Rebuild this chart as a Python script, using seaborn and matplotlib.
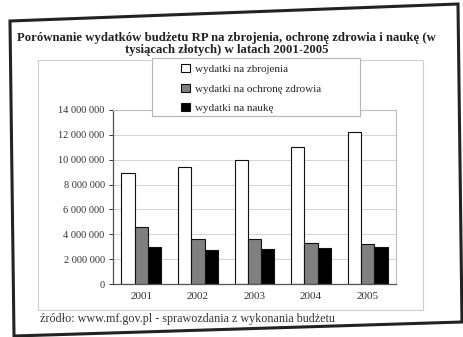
import matplotlib
matplotlib.use("Agg")
import matplotlib.pyplot as plt
import seaborn as sns
import pandas as pd
from matplotlib.patches import Polygon, Rectangle, Patch
from matplotlib.ticker import FuncFormatter

years = ["2001", "2002", "2003", "2004", "2005"]
series_names = ["wydatki na zbrojenia", "wydatki na ochronę zdrowia", "wydatki na naukę"]
zbrojenia = [8900000, 9400000, 10000000, 11000000, 12200000]
zdrowie = [4600000, 3600000, 3600000, 3300000, 3200000]
nauka = [3000000, 2700000, 2800000, 2900000, 2950000]
colors = ["#ffffff", "#808080", "#000000"]

title = ("Porównanie wydatków budżetu RP na zbrojenia, ochronę zdrowia i naukę (w\n"
         "tysiącach złotych) w latach 2001-2005")
source = "źródło: www.mf.gov.pl - sprawozdania z wykonania budżetu"

rows = []
for name, vals in zip(series_names, [zbrojenia, zdrowie, nauka]):
    for y, v in zip(years, vals):
        rows.append({"rok": y, "seria": name, "wartosc": v})
df = pd.DataFrame(rows)

sns.set_theme(style="white")
plt.rcParams["font.family"] = ["Liberation Serif", "DejaVu Serif"]

W, H = 463, 337
fig = plt.figure(figsize=(W / 100, H / 100), dpi=100)
fig.patch.set_facecolor("white")

def fx(x):
    return x / W

def fy(y):
    return 1 - y / H

# paper frame (slightly rotated photo of a printed sheet)
frame = Polygon([(fx(10), fy(21)), (fx(458), fy(4)), (fx(462), fy(322)), (fx(14), fy(336))],
                closed=True, fill=False, edgecolor="#222222", linewidth=2.2,
                transform=fig.transFigure)
fig.patches.append(frame)

# chart area border
fig.patches.append(Rectangle((fx(38), fy(310)), fx(423) - fx(38), fy(60) - fy(310),
                             fill=False, edgecolor="#cfcfcf", linewidth=0.8,
                             transform=fig.transFigure))

ax = fig.add_axes([fx(113), fy(284), fx(396) - fx(113), fy(110) - fy(284)])
sns.barplot(data=df, x="rok", y="wartosc", hue="seria", hue_order=series_names,
            palette=colors, width=0.7, gap=0, edgecolor="#111111", linewidth=0.8,
            saturation=1, ax=ax, legend=False)

ax.set_ylim(0, 14000000)
ax.set_yticks(range(0, 14000001, 2000000))
ax.yaxis.set_major_formatter(FuncFormatter(lambda v, p: f"{int(v):,}".replace(",", " ")))
ax.grid(axis="y", color="#d4d4d4", linewidth=0.7)
ax.set_axisbelow(True)
ax.set_xlabel("")
ax.set_ylabel("")
for s in ["top", "right"]:
    ax.spines[s].set_color("#bdbdbd")
    ax.spines[s].set_linewidth(0.8)
for s in ["left", "bottom"]:
    ax.spines[s].set_color("#555555")
    ax.spines[s].set_linewidth(0.9)
ax.tick_params(axis="y", labelsize=7.5, colors="#333333", length=3, width=0.7, direction="out", left=True, pad=3)
ax.tick_params(axis="x", labelsize=8, colors="#333333", length=0, pad=6)

fig.text(0.49, fy(44), title, ha="center", va="center", fontsize=9.2, fontweight="bold",
         color="#222222", linespacing=1.1)
fig.text(fx(40), fy(319), source, ha="left", va="center", fontsize=8.7, color="#333333")

# legend box
fig.patches.append(Rectangle((fx(152), fy(116)), fx(360) - fx(152), fy(58) - fy(116),
                             facecolor="white", edgecolor="#b5b5b5", linewidth=0.8,
                             transform=fig.transFigure, zorder=5))
handles = [Patch(facecolor=c, edgecolor="#111111", linewidth=0.8) for c in colors]
leg = fig.legend(handles, series_names, loc="upper left",
                 bbox_to_anchor=(fx(178), fy(61)), fontsize=8, frameon=False,
                 handlelength=0.75, handleheight=0.75, handletextpad=0.5,
                 labelspacing=0.85, borderpad=0.3, borderaxespad=0)
leg.set_zorder(6)

fig.savefig("out.png", dpi=100, facecolor="white")
